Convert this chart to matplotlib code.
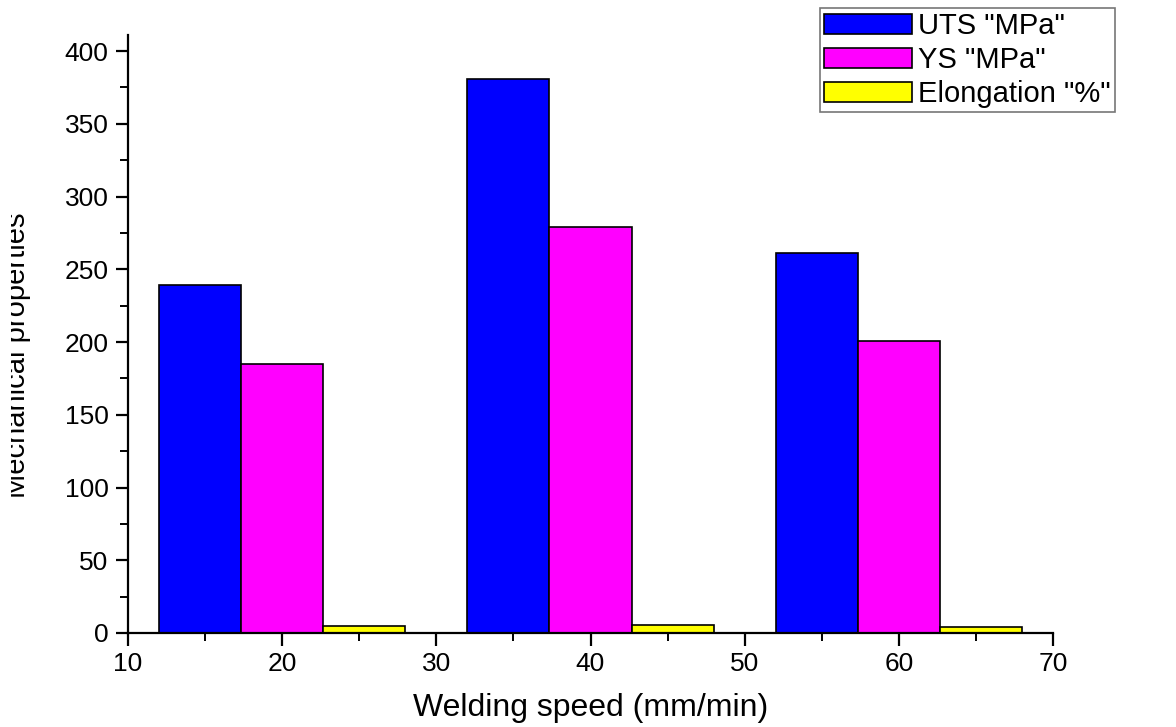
import matplotlib

matplotlib.use("Agg")
import matplotlib.pyplot as plt
import numpy as np
from matplotlib.patches import Rectangle
from matplotlib.ticker import MultipleLocator

plt.rcParams["font.family"] = ["Liberation Sans", "DejaVu Sans"]

# Values
speeds = [20, 40, 60]
uts = [239, 381, 261]
ys = [185, 279, 201]
elongation = [5, 5.5, 4]
labels = ['UTS "MPa"', 'YS "MPa"', 'Elongation "%"']
colors = ["#0000ff", "#ff00ff", "#ffff00"]

W = 16 / 3  # bar width in x units

fig = plt.figure(figsize=(11.76, 7.27), dpi=100)
ax = fig.add_axes([128 / 1176, 1 - 633 / 727, 925 / 1176, 598 / 727])

x = np.array(speeds, dtype=float)
for k, (vals, lab, col) in enumerate(zip([uts, ys, elongation], labels, colors)):
    ax.bar(x + (k - 1) * W, vals, width=W, color=col, edgecolor="black",
           linewidth=1.2, label=lab, zorder=2)

ax.set_xlim(10, 70)
ax.set_ylim(0, 411)
ax.xaxis.set_major_locator(MultipleLocator(10))
ax.xaxis.set_minor_locator(MultipleLocator(5))
ax.set_yticks(np.arange(0, 401, 50))
ax.yaxis.set_minor_locator(MultipleLocator(25))

for side in ["top", "right"]:
    ax.spines[side].set_visible(False)
for side in ["left", "bottom"]:
    ax.spines[side].set_linewidth(1.6)

ax.tick_params(which="major", direction="out", length=9, width=1.6, labelsize=19, pad=5)
ax.tick_params(which="minor", direction="out", length=6, width=1.4)

ax.set_xlabel("Welding speed (mm/min)", fontsize=23, labelpad=12)
fig.text(31 / 1176, 1 - 355 / 727, "Mechanical properties", rotation=90,
         ha="right", va="center", fontsize=21)
# the reference has its y label partly cropped at the left edge
fig.patches.append(Rectangle((0, 0), 11 / 1176, 1, transform=fig.transFigure,
                             facecolor="white", edgecolor="none", zorder=10))

leg = fig.legend(loc="upper left", bbox_to_anchor=(820 / 1176, 1 - 8 / 727),
                 fontsize=21, frameon=True, fancybox=False, handlelength=3.0,
                 handleheight=0.7, labelspacing=0.2, handletextpad=0.2,
                 borderaxespad=0, borderpad=0.15)
leg.get_frame().set_edgecolor("#555555")
leg.get_frame().set_linewidth(1.2)

fig.savefig("out.png", dpi=100)
